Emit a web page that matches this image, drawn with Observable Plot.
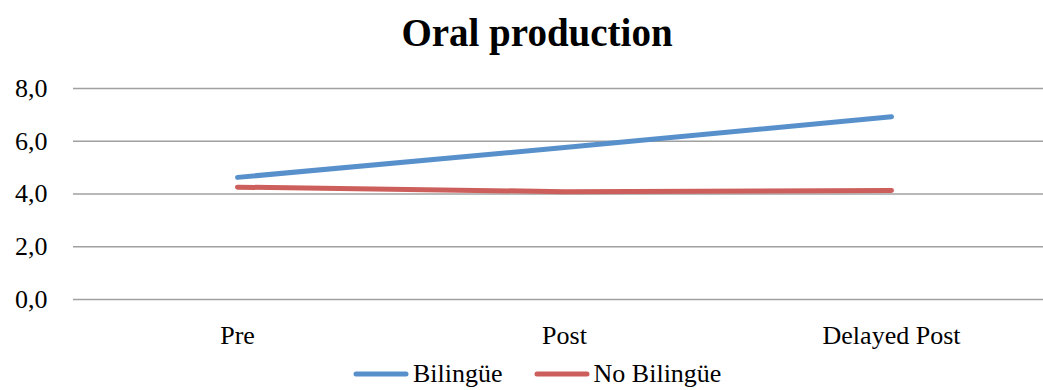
<!DOCTYPE html>
<html>
<head>
<meta charset="utf-8">
<script src="https://cdn.jsdelivr.net/npm/d3@7"></script>
<script src="https://cdn.jsdelivr.net/npm/@observablehq/plot@0.6"></script>
<style>
  body { margin: 0; background: #fff; }
  #wrap { position: relative; width: 1043px; height: 390px; overflow: hidden; font-family: "Liberation Serif", serif; color: #000; }
  #title { position: absolute; left: 0; width: 1043px; top: 8px; height: 50px; line-height: 50px; text-align: center; font-size: 39px; font-weight: bold; padding-left: 31px; box-sizing: border-box; }
  #chart { position: absolute; left: 0; top: 70px; }
  #legend { position: absolute; top: 358px; left: 353px; height: 32px; display: flex; align-items: center; font-family: "Liberation Serif", serif; font-size: 26px; white-space: nowrap; }
  .item { display: flex; align-items: center; margin-right: 31px; }
  .item svg { margin-right: 4px; }
</style>
</head>
<body>
<div id="wrap">
  <div id="title">Oral production</div>
  <div id="chart"></div>
  <div id="legend"></div>
</div>
<script>
const categories = ["Pre", "Post", "Delayed Post"];
const seriesNames = ["Bilingüe", "No Bilingüe"];
const bilingue = [4.63, 5.76, 6.93];
const noBilingue = [4.26, 4.09, 4.13];
const yTicks = [0, 2, 4, 6, 8];
const colors = ["#5890CC", "#CC5F5B"];

const data = [];
categories.forEach((c, i) => {
  data.push({cat: c, value: bilingue[i], series: seriesNames[0]});
});
categories.forEach((c, i) => {
  data.push({cat: c, value: noBilingue[i], series: seriesNames[1]});
});

const fmt = d => d.toFixed(1).replace(".", ",");

const chart = Plot.plot({
  width: 1043,
  height: 290,
  marginTop: 18,
  marginBottom: 61,
  marginLeft: 73,
  marginRight: 0,
  style: {fontFamily: "Liberation Serif, serif", fontSize: "26px", color: "#000", background: "#fff", overflow: "visible"},
  x: {type: "point", domain: categories, range: [236, 891], padding: 0, label: null},
  y: {domain: [0, 8], label: null},
  color: {domain: seriesNames, range: colors},
  marks: [
    Plot.ruleY(yTicks, {stroke: "#a0a0a0", strokeWidth: 1.6}),
    Plot.axisY({ticks: yTicks, tickFormat: fmt, tickSize: 0, tickPadding: 26, label: null}),
    Plot.axisX({tickSize: 0, tickPadding: 26, label: null}),
    Plot.line(data, {x: "cat", y: "value", stroke: "series", z: "series", strokeWidth: 5, strokeLinecap: "round", strokeLinejoin: "round"})
  ]
});
document.getElementById("chart").appendChild(chart);

const legend = document.getElementById("legend");
seriesNames.forEach((name, i) => {
  const item = document.createElement("div");
  item.className = "item";
  item.innerHTML = `<svg width="56" height="10"><line x1="3" y1="5" x2="53" y2="5" stroke="${colors[i]}" stroke-width="5" stroke-linecap="round"/></svg><span>${name}</span>`;
  legend.appendChild(item);
});
</script>
</body>
</html>
